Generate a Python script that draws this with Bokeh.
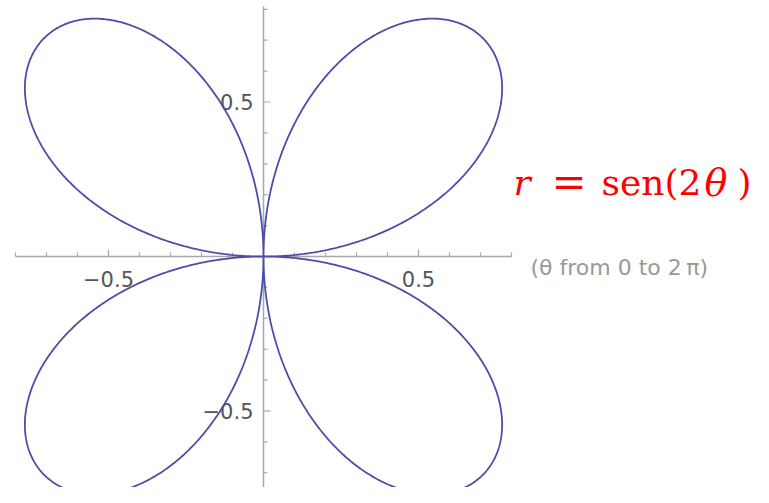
import numpy as np
from bokeh.plotting import figure
from bokeh.models import Range1d, Label
from bokeh.core.properties import value
from bokeh.embed import file_html
from bokeh.resources import INLINE

# ---- data ----
n_points = 1441
theta = np.linspace(0, 2 * np.pi, n_points)
r = np.sin(2 * theta)
xs = r * np.cos(theta)
ys = r * np.sin(theta)

axis_min = -0.8
axis_max = 0.8
major_ticks = [-0.5, 0.5]
major_labels = ["\u22120.5", "0.5"]
minor_ticks = [-0.8, -0.7, -0.6, -0.4, -0.3, -0.2, -0.1,
               0.1, 0.2, 0.3, 0.4, 0.6, 0.7, 0.8]

# ---- styles ----
curve_color = "#4d4da6"
axis_color = "#a8a8a8"
label_color = "#555555"

W, H = 753, 487
OX, OY = 0, 0  # canvas origin on the page (as observed)
x0 = (OX - 263) / 310.0
x1 = (OX + W - 263) / 310.0
y1 = (256 - OY) / 309.0
y0 = (256 - (OY + H)) / 309.0

p = figure(width=W, height=H, output_backend="svg", toolbar_location=None,
           x_range=Range1d(x0, x1), y_range=Range1d(y0, y1),
           x_axis_location=None, y_axis_location=None, min_border=0,
           outline_line_color=None, background_fill_color="white")
p.grid.visible = False

# axes drawn at the origin
zeros_x = [0] * len(minor_ticks)
p.segment(x0=[axis_min], y0=[0], x1=[axis_max], y1=[0], line_color=axis_color, line_width=1.5)
p.segment(x0=[0], y0=[axis_min - 0.01], x1=[0], y1=[axis_max + 0.01], line_color=axis_color, line_width=1.5)

# x ticks (pointing up)
p.ray(x=minor_ticks, y=zeros_x, length=4, angle=np.pi / 2, length_units="screen",
      line_color=axis_color, line_width=1.2)
p.ray(x=major_ticks, y=[0, 0], length=7, angle=np.pi / 2, length_units="screen",
      line_color=axis_color, line_width=1.2)
# y ticks (pointing right)
p.ray(x=zeros_x, y=minor_ticks, length=4, angle=0, length_units="screen",
      line_color=axis_color, line_width=1.2)
p.ray(x=[0, 0], y=major_ticks, length=7, angle=0, length_units="screen",
      line_color=axis_color, line_width=1.2)

# tick labels
p.text(x=major_ticks, y=[0, 0], text=major_labels, y_offset=14,
       text_align="center", text_baseline="top", text_font=value("DejaVu Sans"),
       text_font_size="21px", text_color=label_color)
p.text(x=[0, 0], y=major_ticks, text=major_labels, x_offset=-10,
       text_align="right", text_baseline="middle", text_font=value("DejaVu Sans"),
       text_font_size="21px", text_color=label_color)

# curve
p.line(xs, ys, line_color=curve_color, line_width=1.8)

# ---- annotations (screen coords) ----
def sx(x):
    return x - OX

def sy(y):
    return H - (y - OY)

p.add_layout(Label(x=sx(530), y=sy(267), x_units="screen", y_units="screen",
                   text="(\u03b8 from 0 to 2\u2009\u03c0)", text_font="DejaVu Sans",
                   text_font_size="22px", text_color="#999999", text_baseline="alphabetic"))

red = "#ff0000"
base = sy(182)
pieces = [(513, "r", "italic", "36px"), (551, "=", "normal", "42px"),
          (601, "sen(2", "normal", "36px"), (704, "\u03b8", "italic", "38px"),
          (737, ")", "normal", "36px")]
for px, t, style, fs in pieces:
    p.add_layout(Label(x=sx(px), y=base, x_units="screen", y_units="screen", text=t,
                       text_font="DejaVu Serif", text_font_size=fs,
                       text_font_style=style, text_color=red, text_baseline="alphabetic"))

open("out.html", "w").write(file_html(p, INLINE))
